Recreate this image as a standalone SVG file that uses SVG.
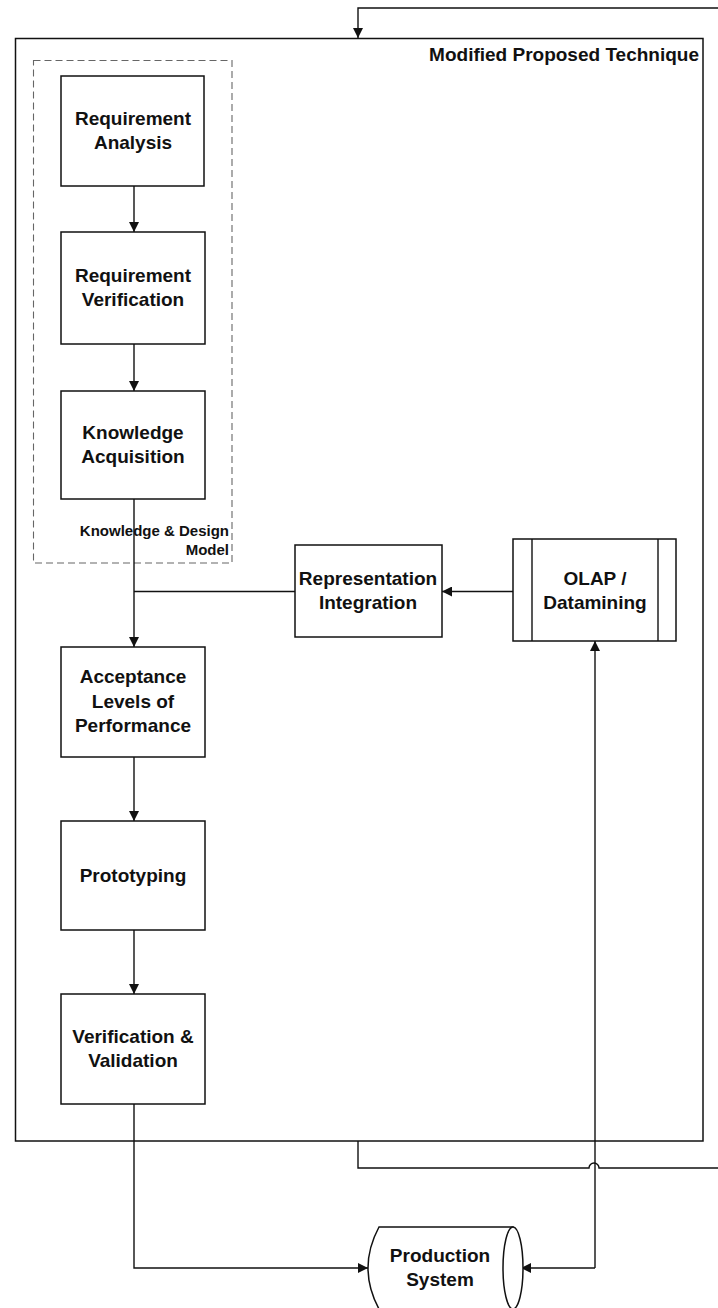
<svg xmlns="http://www.w3.org/2000/svg" width="718" height="1308" viewBox="0 0 718 1308">
<defs>
<style>
.box{fill:#fff;stroke:#111;stroke-width:1.5}
.t{font-family:"Liberation Sans",Arial,sans-serif;font-weight:bold;font-size:19px;fill:#111;text-anchor:middle}
.s{font-family:"Liberation Sans",Arial,sans-serif;font-weight:bold;font-size:15px;fill:#111;text-anchor:end}
.ln{fill:none;stroke:#111;stroke-width:1.4}
.arr{fill:none;stroke:#111;stroke-width:1.4;marker-end:url(#ah)}
</style>
<marker id="ah" viewBox="0 0 10 10" refX="10" refY="5" markerWidth="11" markerHeight="10" markerUnits="userSpaceOnUse" orient="auto-start-reverse">
<path d="M0,0 L10,5 L0,10 z" fill="#111"/>
</marker>
</defs>
<rect width="718" height="1308" fill="#fff"/>

<g id="outer">
<rect x="15.5" y="38.5" width="687.5" height="1102.5" fill="none" stroke="#111" stroke-width="1.5"/>
<text class="t" x="699" y="61" style="text-anchor:end">Modified Proposed Technique</text>
</g>

<g id="kdm">
<rect x="33.5" y="60.5" width="198.5" height="502.5" fill="none" stroke="#666" stroke-width="1.1" stroke-dasharray="7 4"/>
<text class="s" x="229" y="536">Knowledge &amp; Design</text>
<text class="s" x="229" y="555">Model</text>
</g>

<g id="connectors">
<path class="arr" d="M718,8 H358 V38"/>
<path class="arr" d="M134,186 V232"/>
<path class="arr" d="M134,344 V391"/>
<path class="arr" d="M134,499 V647"/>
<path class="ln" d="M295,591.5 H134"/>
<path class="arr" d="M513,591.5 H442"/>
<path class="arr" d="M134,757 V821"/>
<path class="arr" d="M134,930 V994"/>
<path class="arr" d="M134,1104 V1268 H368"/>
<path class="ln" d="M595,1268 H521" style="marker-end:url(#ah)"/>
<path class="arr" d="M595,1268 V641"/>
<path class="ln" d="M358,1141 V1168 H589 A5,5 0 0 1 599,1168 H718"/>
</g>

<g id="ra">
<rect class="box" x="61" y="76" width="143" height="110"/>
<text class="t" x="133" y="125">Requirement</text>
<text class="t" x="133" y="149">Analysis</text>
</g>
<g id="rv">
<rect class="box" x="61" y="232" width="144" height="112"/>
<text class="t" x="133" y="282">Requirement</text>
<text class="t" x="133" y="306">Verification</text>
</g>
<g id="ka">
<rect class="box" x="61" y="391" width="144" height="108"/>
<text class="t" x="133" y="439">Knowledge</text>
<text class="t" x="133" y="463">Acquisition</text>
</g>
<g id="ri">
<rect class="box" x="295" y="545" width="147" height="92"/>
<text class="t" x="368" y="585">Representation</text>
<text class="t" x="368" y="609">Integration</text>
</g>
<g id="olap">
<rect class="box" x="513" y="539" width="163" height="102"/>
<line class="ln" x1="532" y1="539" x2="532" y2="641"/>
<line class="ln" x1="658" y1="539" x2="658" y2="641"/>
<text class="t" x="595" y="585">OLAP /</text>
<text class="t" x="595" y="609">Datamining</text>
</g>
<g id="alp">
<rect class="box" x="61" y="647" width="144" height="110"/>
<text class="t" x="133" y="683">Acceptance</text>
<text class="t" x="133" y="708">Levels of</text>
<text class="t" x="133" y="732">Performance</text>
</g>
<g id="proto">
<rect class="box" x="61" y="821" width="144" height="109"/>
<text class="t" x="133" y="882">Prototyping</text>
</g>
<g id="vv">
<rect class="box" x="61" y="994" width="144" height="110"/>
<text class="t" x="133" y="1043">Verification &amp;</text>
<text class="t" x="133" y="1067">Validation</text>
</g>
<g id="prod">
<path class="box" d="M379,1227 H513 V1309 H379 Q357,1268 379,1227 Z"/>
<ellipse cx="513" cy="1268" rx="10" ry="41" fill="#fff" stroke="#111" stroke-width="1.5"/>
<text class="t" x="440" y="1262">Production</text>
<text class="t" x="440" y="1286">System</text>
</g>
</svg>
